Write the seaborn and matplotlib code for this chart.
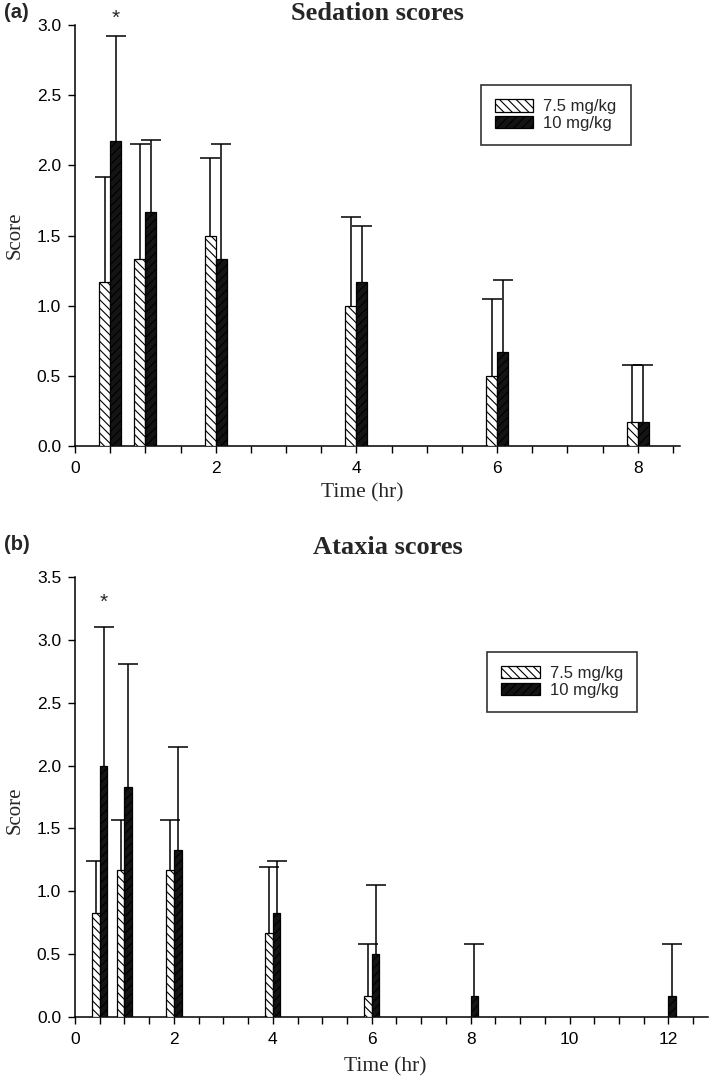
import seaborn as sns
import matplotlib.pyplot as plt
import matplotlib.patches as mpatches
from matplotlib.ticker import MultipleLocator
import pandas as pd
import numpy as np

# data (mean score and SD)
doses = ['7.5 mg/kg', '10 mg/kg']

sed_time = [0.5, 1, 2, 4, 6, 8]
sed_low = [1.17, 1.33, 1.50, 1.00, 0.50, 0.17]
sed_low_sd = [0.75, 0.82, 0.55, 0.63, 0.55, 0.41]
sed_high = [2.17, 1.67, 1.33, 1.17, 0.67, 0.17]
sed_high_sd = [0.75, 0.51, 0.82, 0.40, 0.51, 0.41]

atx_time = [0.5, 1, 2, 4, 6, 8, 12]
atx_low = [0.83, 1.17, 1.17, 0.67, 0.17, np.nan, np.nan]
atx_low_sd = [0.41, 0.40, 0.40, 0.52, 0.41, np.nan, np.nan]
atx_high = [2.00, 1.83, 1.33, 0.83, 0.50, 0.17, 0.17]
atx_high_sd = [1.10, 0.98, 0.82, 0.41, 0.55, 0.41, 0.41]

colors = {'7.5 mg/kg': 'white', '10 mg/kg': '#141414'}
hatches = {'7.5 mg/kg': '\\\\\\\\', '10 mg/kg': '////'}

sns.set_style('ticks')
plt.rcParams['font.family'] = ['Liberation Sans', 'DejaVu Sans']
plt.rcParams['hatch.linewidth'] = 0.8
serif = ['Liberation Serif', 'DejaVu Serif']


def panel(ax, time, low, low_sd, high, high_sd, ymax, xmax, star_y, leg_anchor):
    n = len(time)
    df = pd.DataFrame({
        'time': time + time,
        'score': low + high,
        'sd': low_sd + high_sd,
        'dose': [doses[0]] * n + [doses[1]] * n,
    }).dropna()
    sns.barplot(data=df, x='time', y='score', hue='dose', hue_order=doses,
                native_scale=True, width=0.62, palette=colors, saturation=1,
                errorbar=None, edgecolor='black', linewidth=0.9,
                legend=False, ax=ax, zorder=3)

    # hatching + upper error bars, matched to each bar
    bars = list(ax.patches)
    for d in doses:
        sub = df[df['dose'] == d].sort_values('time')
        fc = mpatches.Patch(facecolor=colors[d]).get_facecolor()
        mine = [p for p in bars if np.allclose(p.get_facecolor(), fc)]
        mine.sort(key=lambda p: p.get_x())
        for p in mine:
            p.set_hatch(hatches[d])
        xs = [p.get_x() + p.get_width() / 2 for p in mine]
        eb = ax.errorbar(xs, sub['score'].values,
                         yerr=[np.zeros(len(sub)), sub['sd'].values],
                         fmt='none', ecolor='black', elinewidth=1.1,
                         capsize=7.5, capthick=1.1, zorder=2)
        # drop the caps sitting on the bar tops (only upper SD shown)
        for cl in eb[1]:
            if np.allclose(cl.get_ydata(), sub['score'].values):
                cl.set_visible(False)

    ax.set_xlim(0, xmax)
    ax.set_ylim(0, ymax)
    ax.xaxis.set_major_locator(MultipleLocator(2))
    ax.xaxis.set_minor_locator(MultipleLocator(0.5))
    ax.yaxis.set_major_locator(MultipleLocator(0.5))
    ax.xaxis.set_major_formatter(plt.FuncFormatter(lambda v, p: f'{v:.0f}'))
    ax.yaxis.set_major_formatter(plt.FuncFormatter(lambda v, p: f'{v:.1f}'))
    ax.tick_params(axis='both', which='both', direction='out', length=5,
                   width=1, labelsize=12.5, pad=5, colors='black')
    ax.tick_params(axis='x', which='major', pad=6)
    for s in ['top', 'right']:
        ax.spines[s].set_visible(False)
    for s in ['left', 'bottom']:
        ax.spines[s].set_linewidth(1.1)
        ax.spines[s].set_color('black')

    ax.set_xlabel('Time (hr)', family=serif, fontsize=15.5, va='center')
    ax.set_ylabel('Score', family=serif, fontsize=15, va='center')

    ax.text(time[0] + 0.08, star_y, '*', ha='center', va='center',
            fontsize=15, clip_on=False)

    handles = [mpatches.Patch(facecolor=colors[d], edgecolor='black',
                              hatch=hatches[d], linewidth=0.9, label=d)
               for d in doses]
    leg = ax.legend(handles=handles, loc='upper left', bbox_to_anchor=leg_anchor,
                    borderaxespad=0, frameon=True, fancybox=False,
                    edgecolor='black', fontsize=12, handlelength=2.3,
                    handleheight=0.75, handletextpad=0.6, labelspacing=0.1,
                    borderpad=0.85)
    leg.get_frame().set_linewidth(1.2)


W, H = 709, 1085
fig = plt.figure(figsize=(W / 100, H / 100), dpi=100)

ax1 = fig.add_axes([75 / W, 1 - 446 / H, (680 - 75) / W, (446 - 25) / H])
panel(ax1, sed_time, sed_low, sed_low_sd, sed_high, sed_high_sd,
      3.0, 8.6, 3.05, (0.671, 0.857))
ax1.xaxis.set_label_coords(0.475, -47 / 421)
ax1.yaxis.set_label_coords(-60 / 605, 0.5)

ax2 = fig.add_axes([75 / W, 1 - 1017 / H, (708 - 75) / W, (1017 - 577) / H])
panel(ax2, atx_time, atx_low, atx_low_sd, atx_high, atx_high_sd,
      3.5, 12.8, 3.3, (0.651, 0.83))
ax2.xaxis.set_label_coords(0.49, -50 / 440)
ax2.yaxis.set_label_coords(-60 / 633, 0.47)

fig.text(377 / W, 1 - 13 / H, 'Sedation scores', ha='center', va='center',
         family=serif, fontweight='bold', fontsize=19)
fig.text(388 / W, 1 - 547 / H, 'Ataxia scores', ha='center', va='center',
         family=serif, fontweight='bold', fontsize=19)
fig.text(4 / W, 1 - 13 / H, '(a)', ha='left', va='center',
         fontweight='bold', fontsize=14.5)
fig.text(4 / W, 1 - 545 / H, '(b)', ha='left', va='center',
         fontweight='bold', fontsize=14.5)

fig.savefig('out.png', dpi=100)
